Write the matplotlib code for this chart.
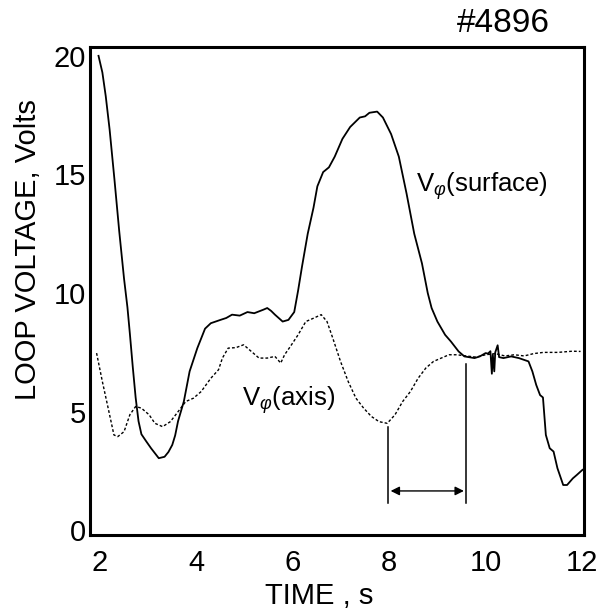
import matplotlib
matplotlib.use("Agg")
import matplotlib.pyplot as plt

plt.rcParams['font.family'] = ['Liberation Sans', 'DejaVu Sans']
plt.rcParams['mathtext.fontset'] = 'custom'
plt.rcParams['mathtext.rm'] = 'Liberation Sans'
plt.rcParams['mathtext.it'] = 'Liberation Sans:italic'

# Surface loop voltage (solid)
t_surf = [1.97, 2.05, 2.12, 2.2, 2.3, 2.4, 2.5, 2.57, 2.62, 2.68, 2.74, 2.8, 2.86, 2.96, 3.06,
          3.14, 3.22, 3.34, 3.42, 3.5, 3.56, 3.62, 3.74, 3.86, 4.02, 4.18, 4.3, 4.5, 4.62, 4.74,
          4.9, 5.06, 5.2, 5.39, 5.47, 5.55, 5.63, 5.79, 5.91, 6.03, 6.11, 6.19, 6.31, 6.43,
          6.51, 6.63, 6.75, 6.87, 7.03, 7.19, 7.39, 7.5, 7.59, 7.75, 7.87, 8.04, 8.2, 8.36,
          8.52, 8.68, 8.8, 8.88, 9.0, 9.16, 9.28, 9.44, 9.56, 9.77, 9.88, 10.0, 10.05, 10.1,
          10.13, 10.15, 10.18, 10.2, 10.25, 10.28, 10.37, 10.53, 10.69, 10.89, 10.97, 11.05,
          11.13, 11.19, 11.25, 11.33, 11.41, 11.49, 11.61, 11.69, 11.81, 11.89, 12.01]
v_surf = [20.0, 19.3, 18.3, 16.9, 14.8, 12.6, 10.6, 9.4, 8.3, 6.9, 5.6, 4.6, 4.05, 3.75, 3.46,
          3.25, 3.04, 3.1, 3.3, 3.6, 4.0, 4.6, 5.43, 6.7, 7.68, 8.5, 8.73, 8.87, 8.95, 9.09,
          9.05, 9.2, 9.15, 9.3, 9.37, 9.25, 9.09, 8.8, 8.87, 9.2, 10.1, 11.1, 12.5, 13.6,
          14.5, 15.1, 15.3, 15.75, 16.5, 17.0, 17.4, 17.45, 17.6, 17.65, 17.4, 16.7, 15.75,
          14.2, 12.5, 11.25, 10.0, 9.37, 8.8, 8.24, 7.96, 7.54, 7.33, 7.26, 7.33, 7.47, 7.45,
          7.55, 6.6, 7.4, 6.7, 7.5, 7.8, 7.3, 7.26, 7.33, 7.26, 7.12, 6.7, 6.13, 5.7, 5.6,
          4.02, 3.46, 3.32, 2.62, 1.91, 1.91, 2.19, 2.33, 2.55]

# Axis loop voltage (dotted)
t_axis = [1.93, 2.05, 2.17, 2.29, 2.37, 2.5, 2.62, 2.74, 2.86, 3.02, 3.14, 3.3, 3.46, 3.62,
          3.78, 3.94, 4.1, 4.3, 4.46, 4.54, 4.66, 4.82, 4.98, 5.14, 5.3, 5.47, 5.63, 5.75,
          5.83, 5.95, 6.11, 6.27, 6.43, 6.59, 6.71, 6.83, 6.99, 7.15, 7.31, 7.47, 7.63, 7.79,
          7.96, 8.12, 8.28, 8.44, 8.6, 8.76, 8.92, 9.08, 9.24, 9.4, 9.6, 9.8, 10.0, 10.2,
          10.4, 10.6, 10.8, 11.0, 11.2, 11.5, 11.8, 11.97]
v_axis = [7.47, 6.27, 5.15, 4.02, 3.95, 4.16, 4.87, 5.22, 5.15, 4.87, 4.51, 4.37, 4.58, 5.0,
          5.43, 5.57, 5.85, 6.41, 6.77, 7.26, 7.68, 7.7, 7.82, 7.54, 7.26, 7.26, 7.33, 7.05,
          7.4, 7.75, 8.24, 8.8, 8.94, 9.09, 8.8, 8.1, 7.12, 6.27, 5.57, 5.15, 4.8, 4.58,
          4.51, 4.87, 5.43, 5.85, 6.41, 6.84, 7.12, 7.26, 7.4, 7.4, 7.35, 7.3, 7.4, 7.45,
          7.35, 7.4, 7.35, 7.45, 7.5, 7.5, 7.55, 7.54]

# Interval markers
t_start, t_end = 7.98, 9.6
v_start_top, v_end_top, v_bottom = 4.35, 7.0, 1.14
v_arrow = 1.66

x_ticks = [2, 4, 6, 8, 10, 12]
y_ticks = [0, 5, 10, 15, 20]

fig = plt.figure(figsize=(6.07, 6.16), dpi=100)
ax = fig.add_axes([0.148, 0.131, 0.814, 0.793])

ax.plot(t_surf, v_surf, color='black', lw=1.3, solid_joinstyle='round')
ax.plot(t_axis, v_axis, color='black', lw=1.0, linestyle=(0, (2, 1.5)))

ax.plot([t_start, t_start], [v_bottom, v_start_top], color='black', lw=1.1)
ax.plot([t_end, t_end], [v_bottom, v_end_top], color='black', lw=1.1)
ax.annotate('', xy=(t_start + 0.05, v_arrow), xytext=(t_end - 0.05, v_arrow),
            arrowprops=dict(arrowstyle='<|-|>', color='black', lw=1.0,
                            mutation_scale=13, shrinkA=0, shrinkB=0))

ax.text(8.55, 14.5, r'V$_{\varphi}$(surface)', fontsize=18.5, va='center', ha='left')
ax.text(4.95, 5.5, r'V$_{\varphi}$(axis)', fontsize=18.5, va='center', ha='left')

ax.set_xlim(1.79, 12.04)
ax.set_ylim(-0.21, 20.38)
ax.set_xticks(x_ticks)
ax.set_yticks(y_ticks)
ax.tick_params(axis='both', length=0, labelsize=21)
ax.tick_params(axis='x', pad=10)
ax.tick_params(axis='y', pad=3)
for s in ax.spines.values():
    s.set_linewidth(2.2)

fig.text(319 / 607, 1 - 596 / 616, 'TIME , s', fontsize=21, ha='center', va='center')
fig.text(28 / 607, 1 - 250 / 616, 'LOOP VOLTAGE, Volts', fontsize=21, ha='center',
         va='center', rotation=90)
fig.text(503 / 607, 1 - 24 / 616, '#4896', fontsize=24, ha='center', va='center')

fig.savefig('out.png', dpi=100)
